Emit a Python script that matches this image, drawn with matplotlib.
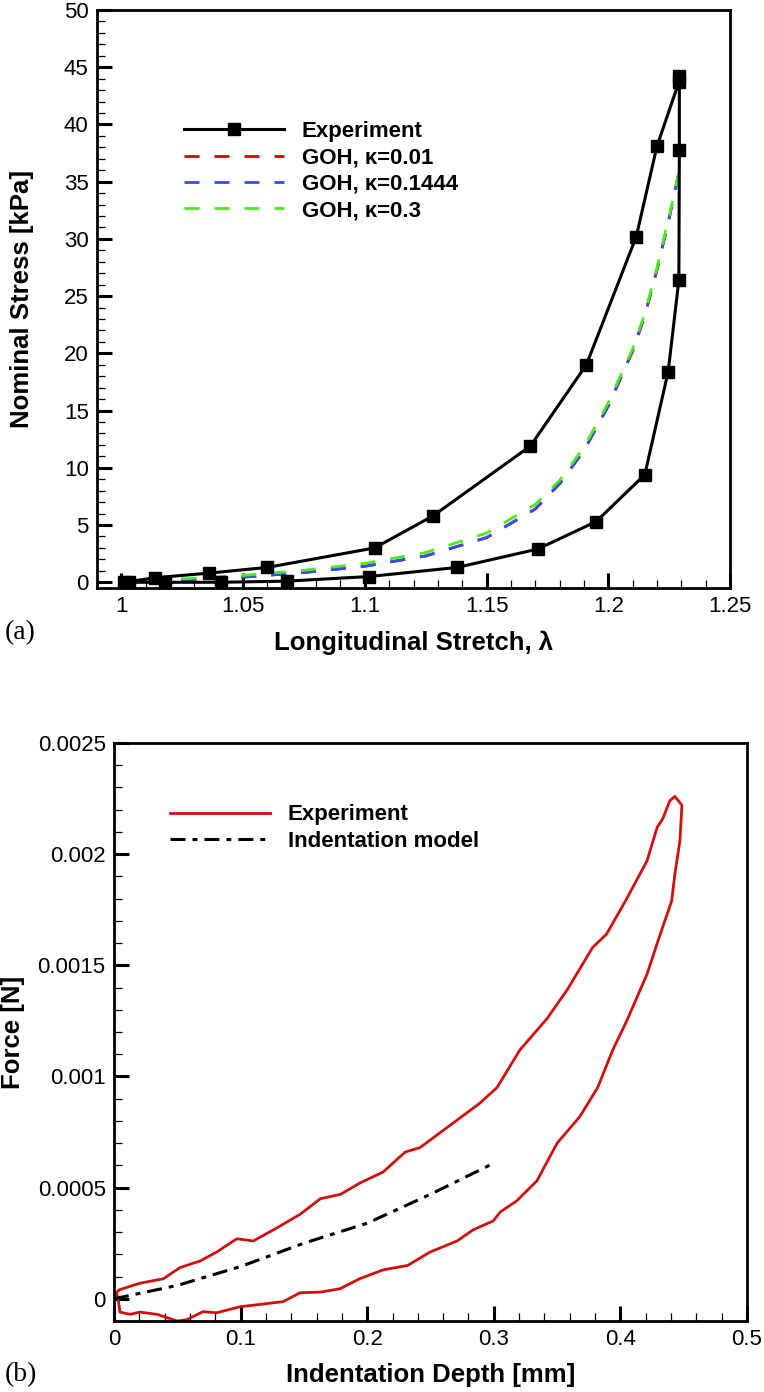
import numpy as np
import matplotlib
matplotlib.use("Agg")
import matplotlib.pyplot as plt
from matplotlib.ticker import MultipleLocator

plt.rcParams['font.family'] = ['Liberation Sans', 'DejaVu Sans']

# (a) uniaxial test, loading + unloading
exp_stretch = [1.001, 1.014, 1.036, 1.060, 1.104, 1.128, 1.168, 1.191, 1.2115, 1.220, 1.2290,
               1.2292, 1.2292, 1.2290, 1.2246, 1.215, 1.195, 1.171, 1.138, 1.1017, 1.068,
               1.041, 1.018, 1.003]
exp_stress = [0.0, 0.4, 0.8, 1.3, 3.0, 5.8, 11.9, 19.0, 30.2, 38.1, 43.7,
              44.2, 37.8, 26.4, 18.4, 9.4, 5.3, 2.9, 1.3, 0.5, 0.1,
              0.0, 0.0, 0.0]

goh_stretch = [1.0, 1.025, 1.05, 1.075, 1.1, 1.125, 1.15, 1.17, 1.18, 1.19, 1.2, 1.21, 1.215, 1.22, 1.225, 1.229]
goh_k001 = [0.0, 0.2, 0.45, 0.85, 1.4, 2.3, 3.9, 6.4, 8.6, 11.5, 15.4, 20.2, 23.3, 27.3, 31.8, 35.8]
goh_k01444 = [0.0, 0.2, 0.45, 0.85, 1.4, 2.3, 3.9, 6.4, 8.6, 11.5, 15.4, 20.2, 23.3, 27.3, 31.8, 35.8]
goh_k03 = [0.0, 0.3, 0.6, 1.05, 1.65, 2.6, 4.3, 6.8, 8.9, 11.8, 15.7, 20.4, 23.5, 27.5, 32.0, 35.8]

# (b) indentation, loading then unloading
ind_depth = [0.0, 0.001, 0.004, 0.0205, 0.039, 0.052, 0.068, 0.081, 0.097, 0.110, 0.129, 0.147,
             0.163, 0.179, 0.194, 0.2125, 0.230, 0.2417, 0.263, 0.289, 0.3025, 0.3207, 0.342,
             0.358, 0.378, 0.389, 0.405, 0.421, 0.429, 0.4335, 0.439, 0.443, 0.4486,
             0.447, 0.443, 0.4405, 0.4297, 0.421, 0.405, 0.394, 0.382, 0.368, 0.350,
             0.334, 0.318, 0.305, 0.2995, 0.2836, 0.271, 0.2496, 0.232, 0.2125, 0.194,
             0.1785, 0.163, 0.147, 0.1335, 0.113, 0.0995, 0.081, 0.0703, 0.0576, 0.050,
             0.034, 0.0205, 0.0126, 0.0047, 0.003, 0.001]
ind_force = [0.0, 0.00002, 0.00004, 0.00007, 0.00009, 0.00014, 0.00017, 0.00021, 0.00027, 0.00026, 0.00032, 0.00038,
             0.00045, 0.00047, 0.00052, 0.00057, 0.00066, 0.00068, 0.00077, 0.00088, 0.00095, 0.00112, 0.00126,
             0.00139, 0.00158, 0.00164, 0.00180, 0.00197, 0.00212, 0.00216, 0.00224, 0.00226, 0.00222,
             0.00206, 0.00191, 0.00179, 0.00161, 0.00146, 0.00125, 0.00112, 0.00095, 0.00082, 0.00070,
             0.00053, 0.00044, 0.00039, 0.00035, 0.00031, 0.00026, 0.00021, 0.00015, 0.00013, 0.00009,
             0.000045, 0.00003, 0.000027, -0.000013, -0.000027, -0.000036, -0.000063, -0.000058, -0.000094, -0.0001,
             -0.00007, -0.00006, -0.00007, -0.00006, 0.00001, 0.00003]

model_depth = [0.0, 0.05, 0.1, 0.15, 0.2, 0.25, 0.3]
model_force = [0.0, 0.00006, 0.000145, 0.00025, 0.00034, 0.00047, 0.00061]

W, H = 764, 1392
fig = plt.figure(figsize=(W / 100, H / 100), dpi=100)


def style_axes(ax):
    for s in ax.spines.values():
        s.set_linewidth(2.0)
    ax.tick_params(which='both', direction='in', top=False, right=False, labelsize=16, pad=6)
    ax.tick_params(which='major', length=11, width=2.2)
    ax.tick_params(which='minor', length=6, width=0.9)


def place_labels(ax, xl_y, yl_x):
    ax.xaxis.set_label_coords(0.5, xl_y)
    ax.yaxis.set_label_coords(yl_x, 0.5)
    ax.xaxis.label.set_va('center')
    ax.yaxis.label.set_va('center')


# ---------- (a) ----------
ax1 = fig.add_axes([97 / W, 1 - 588 / H, (730 - 97) / W, (588 - 10) / H])
ax1.plot(goh_stretch, goh_k001, color='#e00000', lw=2.0, dashes=(5.4, 5.4), label=u'GOH, \u03ba=0.01')
ax1.plot(goh_stretch, goh_k01444, color='#3050e8', lw=2.0, dashes=(5.4, 5.4), label=u'GOH, \u03ba=0.1444')
ax1.plot(goh_stretch, goh_k03, color='#50e820', lw=2.0, dashes=(5.4, 5.4), label=u'GOH, \u03ba=0.3')
ax1.plot(exp_stretch, exp_stress, color='black', lw=2.2, marker='s', ms=8.5, label='Experiment')
ax1.set_xlim(0.99, 1.25)
ax1.set_ylim(-0.5, 50)
ax1.xaxis.set_minor_locator(MultipleLocator(0.01))
ax1.yaxis.set_major_locator(MultipleLocator(5))
ax1.yaxis.set_minor_locator(MultipleLocator(1))
ax1.set_xticks([1, 1.05, 1.1, 1.15, 1.2, 1.25])
ax1.set_xticklabels(['1', '1.05', '1.1', '1.15', '1.2', '1.25'])
style_axes(ax1)
ax1.set_xlabel(u'Longitudinal Stretch, \u03bb', fontsize=18.5, fontweight='bold')
ax1.set_ylabel('Nominal Stress [kPa]', fontsize=18.5, fontweight='bold')
place_labels(ax1, (588 - 643) / 578, (22 - 97) / 633)
h, l = ax1.get_legend_handles_labels()
order = [3, 0, 1, 2]
ax1.legend([h[i] for i in order], [l[i] for i in order], loc='upper left',
           bbox_to_anchor=(0.123, 0.823), frameon=False, handlelength=4.5, handletextpad=0.8,
           labelspacing=0.24, borderaxespad=0, prop={'weight': 'bold', 'size': 16})
fig.text(5 / W, 1 - 633 / H, '(a)', family=['Liberation Serif', 'DejaVu Serif'], fontsize=20, va='center')

# ---------- (b) ----------
ax2 = fig.add_axes([114 / W, 1 - 1321 / H, (747 - 114) / W, (1321 - 743) / H])
ax2.plot(ind_depth, ind_force, color='#d01010', lw=2.0, label='Experiment')
ax2.plot(model_depth, model_force, color='black', lw=2.2, dashes=(4.9, 2.3, 1.6, 2.3), label='Indentation model')
ax2.set_xlim(0, 0.5)
ax2.set_ylim(-0.0001, 0.0025)
ax2.xaxis.set_minor_locator(MultipleLocator(0.02))
ax2.yaxis.set_minor_locator(MultipleLocator(0.0001))
ax2.set_xticks([0, 0.1, 0.2, 0.3, 0.4, 0.5])
ax2.set_xticklabels(['0', '0.1', '0.2', '0.3', '0.4', '0.5'])
ax2.set_yticks([0, 0.0005, 0.001, 0.0015, 0.002, 0.0025])
ax2.set_yticklabels(['0', '0.0005', '0.001', '0.0015', '0.002', '0.0025'])
style_axes(ax2)
ax2.set_xlabel('Indentation Depth [mm]', fontsize=18.5, fontweight='bold')
ax2.set_ylabel('Force [N]', fontsize=18.5, fontweight='bold')
place_labels(ax2, (1321 - 1375) / 578, (13 - 114) / 633)
ax2.legend(loc='upper left', bbox_to_anchor=(0.074, 0.909), frameon=False, handlelength=4.5,
           handletextpad=0.8, labelspacing=0.24, borderaxespad=0, prop={'weight': 'bold', 'size': 16})
fig.text(5 / W, 1 - 1375 / H, '(b)', family=['Liberation Serif', 'DejaVu Serif'], fontsize=20, va='center')

fig.savefig('out.png', dpi=100)
